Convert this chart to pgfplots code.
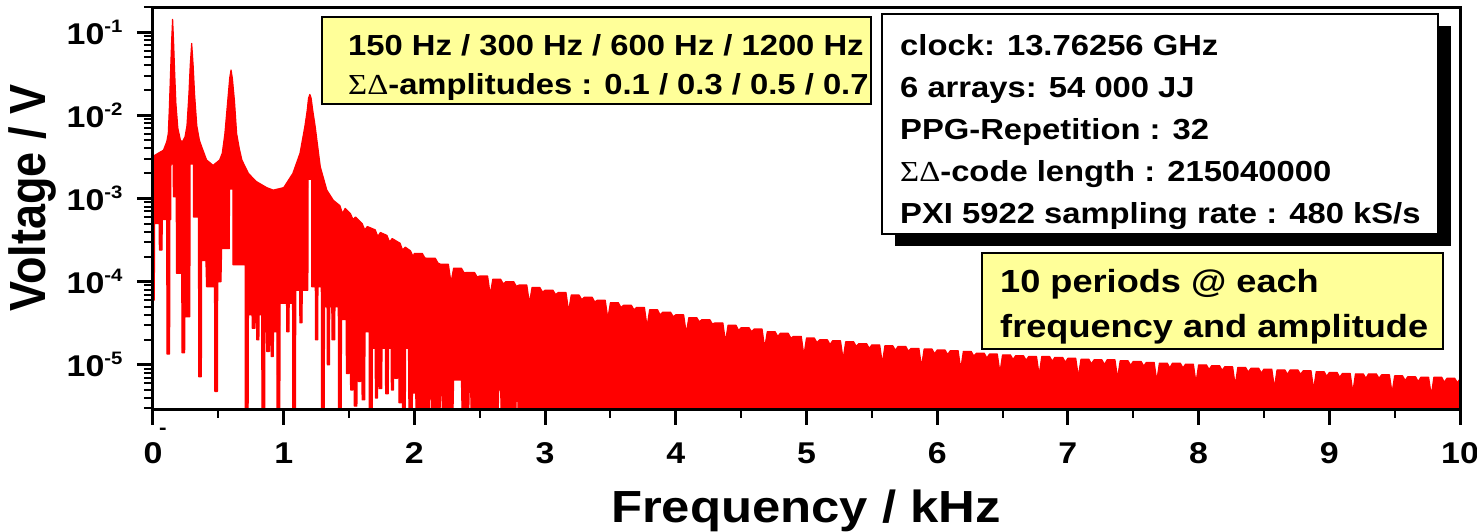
\documentclass[border=0pt]{standalone}
\usepackage{fontspec}
\setmainfont{Liberation Sans}[FakeStretch=1.13]
\newfontfamily\plainsans{Liberation Sans}
\newfontfamily\grk{Liberation Serif}[FakeStretch=1.13]
\usepackage{graphicx}
\usepackage{pgfplots}
\pgfplotsset{compat=1.18}
\definecolor{boxyellow}{RGB}{255,255,153}
\newcommand\tp[1]{10\raisebox{12pt}{\fontsize{18}{18}\selectfont -#1}}
\newcommand\SD{{\grk\mdseries ΣΔ}}
\begin{document}
\begin{tikzpicture}
\useasboundingbox (-153pt,-122pt) rectangle (1324pt,409pt);
\begin{axis}[
  at={(0pt,0pt)}, anchor=south west,
  scale only axis, width=1307pt, height=402pt,
  xmin=0, xmax=10, ymin=2.95e-6, ymax=0.2, ymode=log,
  axis on top,
  axis line style={line width=3pt},
  tick align=outside, tick pos=left,
  major tick length=16pt, minor tick length=9pt,
  major tick style={line width=3pt, black},
  minor tick style={line width=2pt, black},
  xtick={0,1,2,3,4,5,6,7,8,9,10},
  xticklabels={0,1,2,3,4,5,6,7,8,9,10},
  minor xtick={0.5,1.5,2.5,3.5,4.5,5.5,6.5,7.5,8.5,9.5},
  ytick={1e-5,1e-4,1e-3,1e-2,1e-1},
  yticklabels={\tp{5},\tp{4},\tp{3},\tp{2},\tp{1}},
  minor ytick={3e-6,4e-6,5e-6,6e-6,7e-6,8e-6,9e-6,
    2e-5,3e-5,4e-5,5e-5,6e-5,7e-5,8e-5,9e-5,
    2e-4,3e-4,4e-4,5e-4,6e-4,7e-4,8e-4,9e-4,
    2e-3,3e-3,4e-3,5e-3,6e-3,7e-3,8e-3,9e-3,
    2e-2,3e-2,4e-2,5e-2,6e-2,7e-2,8e-2,9e-2,2e-1},
  ticklabel style={font=\fontsize{30}{30}\selectfont\bfseries},
  xticklabel style={anchor=north, yshift=-14pt},
  yticklabel style={anchor=east, xshift=-11pt},
]
\addplot[draw=red, fill=red, line width=1.2pt, line join=round] coordinates {
(0,6e-5)
(0.000,3.2e-3) (0.04,3.5e-3) (0.08,3.8e-3) (0.105,4.8e-3) (0.117,6e-3)
(0.125,1.2e-2) (0.135,3.5e-2) (0.143,8e-2) (0.150,0.142) (0.157,8e-2)
(0.165,3.5e-2) (0.175,1.4e-2) (0.19,7e-3) (0.21,5e-3) (0.225,4.8e-3)
(0.245,5.5e-3) (0.26,7.5e-3) (0.275,1.8e-2) (0.285,4e-2) (0.296,0.073)
(0.307,4e-2) (0.318,1.8e-2) (0.335,7.5e-3) (0.355,5e-3) (0.372,4.2e-3)
(0.41,2.9e-3) (0.46,2.5e-3) (0.51,2.9e-3) (0.53,3.5e-3) (0.55,6e-3)
(0.572,1.5e-2) (0.587,2.8e-2) (0.597,0.035) (0.607,2.8e-2) (0.623,1.5e-2)
(0.64,6e-3) (0.66,4e-3) (0.68,2.9e-3) (0.73,2.0e-3) (0.79,1.6e-3)
(0.87,1.35e-3) (0.92,1.26e-3) (1.00,1.35e-3) (1.07,2.0e-3) (1.125,3.5e-3)
(1.163,7.5e-3) (1.18,1.15e-2) (1.19,1.6e-2) (1.20,0.0178) (1.21,1.6e-2)
(1.222,1.15e-2) (1.24,7.5e-3) (1.28,2.4e-3) (1.33,1.26e-3) (1.38,9.5e-4)
(1.43,8.2e-4) (1.45,6.6e-4) (1.47,7.6e-4) (1.51,6.6e-4) (1.53,5.6e-4)
(1.55,6.0e-4) (1.60,5.0e-4) (1.62,4.2e-4) (1.64,4.6e-4) (1.70,4.2e-4)
(1.72,3.5e-4) (1.74,3.9e-4) (1.79,3.6e-4) (1.81,3.0e-4) (1.83,3.3e-4)
(1.89,2.9e-4) (1.91,2.4e-4) (1.93,2.6e-4) (1.97,2.35e-4) (1.99,2.0e-4)
(2.00,2.19e-4) (2.06,2.19e-4) (2.08,1.93e-4)
(2.10,1.91e-4) (2.16,1.91e-4) (2.18,1.68e-4)
(2.20,1.62e-4) (2.26,1.62e-4) (2.28,9.7e-5)
(2.30,1.45e-4) (2.36,1.45e-4) (2.38,1.28e-4)
(2.40,1.29e-4) (2.46,1.29e-4) (2.48,1.14e-4)
(2.50,1.17e-4) (2.56,1.17e-4) (2.58,7.0e-5)
(2.60,1.07e-4) (2.66,1.07e-4) (2.68,9.4e-5)
(2.70,1.00e-4) (2.76,1.00e-4) (2.78,8.8e-5)
(2.80,9.1e-5) (2.86,9.1e-5) (2.88,5.5e-5)
(2.90,8.5e-5) (2.96,8.5e-5) (2.98,7.5e-5)
(3.00,7.9e-5) (3.06,7.9e-5) (3.08,7.0e-5)
(3.10,7.4e-5) (3.16,7.4e-5) (3.18,4.4e-5)
(3.20,6.9e-5) (3.26,6.9e-5) (3.28,6.1e-5)
(3.30,6.5e-5) (3.36,6.5e-5) (3.38,5.7e-5)
(3.40,6.0e-5) (3.46,6.0e-5) (3.48,3.6e-5)
(3.50,5.6e-5) (3.56,5.6e-5) (3.58,4.9e-5)
(3.60,5.2e-5) (3.66,5.2e-5) (3.68,4.6e-5)
(3.70,4.9e-5) (3.76,4.9e-5) (3.78,2.9e-5)
(3.80,4.6e-5) (3.86,4.6e-5) (3.88,4.0e-5)
(3.90,4.3e-5) (3.96,4.3e-5) (3.98,3.8e-5)
(4.00,4.0e-5) (4.06,4.0e-5) (4.08,2.4e-5)
(4.10,3.7e-5) (4.16,3.7e-5) (4.18,3.3e-5)
(4.20,3.5e-5) (4.26,3.5e-5) (4.28,3.1e-5)
(4.30,3.2e-5) (4.36,3.2e-5) (4.38,1.9e-5)
(4.40,3.0e-5) (4.46,3.0e-5) (4.48,2.6e-5)
(4.50,2.8e-5) (4.56,2.8e-5) (4.58,2.5e-5)
(4.60,2.7e-5) (4.66,2.7e-5) (4.68,1.6e-5)
(4.70,2.5e-5) (4.76,2.5e-5) (4.78,2.2e-5)
(4.80,2.4e-5) (4.86,2.4e-5) (4.88,2.1e-5)
(4.90,2.2e-5) (4.96,2.2e-5) (4.98,1.3e-5)
(5.00,2.1e-5) (5.06,2.1e-5) (5.08,1.85e-5)
(5.10,2.0e-5) (5.16,2.0e-5) (5.18,1.76e-5)
(5.20,1.95e-5) (5.26,1.95e-5) (5.28,1.17e-5)
(5.30,1.9e-5) (5.36,1.9e-5) (5.38,1.67e-5)
(5.40,1.8e-5) (5.46,1.8e-5) (5.48,1.58e-5)
(5.50,1.74e-5) (5.56,1.74e-5) (5.58,1.04e-5)
(5.60,1.70e-5) (5.66,1.70e-5) (5.68,1.5e-5)
(5.70,1.66e-5) (5.76,1.66e-5) (5.78,1.46e-5)
(5.80,1.58e-5) (5.86,1.58e-5) (5.88,9.5e-6)
(5.90,1.55e-5) (5.96,1.55e-5) (5.98,1.36e-5)
(6.00,1.51e-5) (6.06,1.51e-5) (6.08,1.33e-5)
(6.10,1.48e-5) (6.16,1.48e-5) (6.18,8.9e-6)
(6.20,1.45e-5) (6.26,1.45e-5) (6.28,1.28e-5)
(6.30,1.38e-5) (6.36,1.38e-5) (6.38,1.21e-5)
(6.40,1.35e-5) (6.46,1.35e-5) (6.48,8.1e-6)
(6.50,1.32e-5) (6.56,1.32e-5) (6.58,1.16e-5)
(6.60,1.29e-5) (6.66,1.29e-5) (6.68,1.14e-5)
(6.70,1.26e-5) (6.76,1.26e-5) (6.78,7.6e-6)
(6.80,1.26e-5) (6.86,1.26e-5) (6.88,1.11e-5)
(6.90,1.23e-5) (6.96,1.23e-5) (6.98,1.08e-5)
(7.00,1.20e-5) (7.06,1.20e-5) (7.08,7.2e-6)
(7.10,1.17e-5) (7.16,1.17e-5) (7.18,1.03e-5)
(7.20,1.15e-5) (7.26,1.15e-5) (7.28,1.01e-5)
(7.30,1.15e-5) (7.36,1.15e-5) (7.38,6.9e-6)
(7.40,1.12e-5) (7.46,1.12e-5) (7.48,9.9e-6)
(7.50,1.10e-5) (7.56,1.10e-5) (7.58,9.7e-6)
(7.60,1.07e-5) (7.66,1.07e-5) (7.68,6.4e-6)
(7.70,1.05e-5) (7.76,1.05e-5) (7.78,9.2e-6)
(7.80,1.05e-5) (7.86,1.05e-5) (7.88,9.2e-6)
(7.90,1.02e-5) (7.96,1.02e-5) (7.98,6.1e-6)
(8.00,1.00e-5) (8.06,1.00e-5) (8.08,8.8e-6)
(8.10,9.8e-6) (8.16,9.8e-6) (8.18,8.6e-6)
(8.20,9.5e-6) (8.26,9.5e-6) (8.28,5.7e-6)
(8.30,9.3e-6) (8.36,9.3e-6) (8.38,8.2e-6)
(8.40,9.1e-6) (8.46,9.1e-6) (8.48,8.0e-6)
(8.50,8.9e-6) (8.56,8.9e-6) (8.58,5.3e-6)
(8.60,8.7e-6) (8.66,8.7e-6) (8.68,7.7e-6)
(8.70,8.7e-6) (8.76,8.7e-6) (8.78,7.7e-6)
(8.80,8.5e-6) (8.86,8.5e-6) (8.88,5.1e-6)
(8.90,8.3e-6) (8.96,8.3e-6) (8.98,7.3e-6)
(9.00,8.1e-6) (9.06,8.1e-6) (9.08,7.1e-6)
(9.10,7.9e-6) (9.16,7.9e-6) (9.18,4.7e-6)
(9.20,7.8e-6) (9.26,7.8e-6) (9.28,6.9e-6)
(9.30,7.8e-6) (9.36,7.8e-6) (9.38,6.9e-6)
(9.40,7.6e-6) (9.46,7.6e-6) (9.48,4.6e-6)
(9.50,7.4e-6) (9.56,7.4e-6) (9.58,6.5e-6)
(9.60,7.2e-6) (9.66,7.2e-6) (9.68,6.3e-6)
(9.70,7.1e-6) (9.76,7.1e-6) (9.78,4.3e-6)
(9.80,7.1e-6) (9.86,7.1e-6) (9.88,6.2e-6)
(9.90,6.9e-6) (9.96,6.9e-6) (9.98,6.1e-6)
(10.00,6.8e-6)
(10.00,1e-6)
(2.80,1e-6) (2.79,4.5e-6) (2.78,4.5e-6) (2.77,1e-6)
(2.67,1e-6) (2.66,5e-6) (2.645,5e-6) (2.635,1e-6)
(2.44,1e-6) (2.43,5.6e-6) (2.42,5.6e-6) (2.41,1e-6)
(2.37,1e-6) (2.36,6.6e-6) (2.30,6.6e-6) (2.29,1e-6)
(2.22,1e-6) (2.21,5e-6) (2.20,5e-6) (2.19,1e-6)
(2.14,1e-6) (2.13,4.8e-6) (2.12,4.8e-6) (2.11,1e-6)
(2.02,1e-6) (2.01,4.6e-6) (1.985,4.6e-6) (1.98,1e-6)
(1.96,1e-6) (1.955,1.58e-5)
(1.932,1.58e-5) (1.93,1e-6) (1.91,1e-6) (1.908,1.58e-5)
(1.90,1.58e-5) (1.898,3.5e-6) (1.882,3.5e-6) (1.88,1.58e-5)
(1.872,1.58e-5) (1.87,6.9e-6) (1.85,6.9e-6) (1.848,1.58e-5)
(1.842,1.58e-5) (1.84,5e-6) (1.824,5e-6) (1.822,1.58e-5)
(1.802,1.58e-5) (1.80,4.5e-6) (1.78,4.5e-6) (1.778,1.58e-5)
(1.752,1.58e-5) (1.75,5.2e-6) (1.73,5.2e-6) (1.728,1.58e-5)
(1.72,1.58e-5) (1.718,4e-6) (1.702,4e-6) (1.70,1.58e-5)
(1.678,1.58e-5) (1.676,1e-6) (1.656,1e-6) (1.654,2.5e-5)
(1.622,2.5e-5) (1.62,3.8e-6) (1.60,3.8e-6) (1.598,2.5e-5)
(1.59,2.5e-5) (1.588,6.3e-6) (1.572,6.3e-6) (1.57,2.5e-5)
(1.562,2.5e-5) (1.56,3.2e-6) (1.54,3.2e-6) (1.538,3.5e-5)
(1.53,3.5e-5) (1.528,5e-6) (1.512,5e-6) (1.51,3.5e-5)
(1.502,3.5e-5) (1.50,7.9e-6) (1.48,7.9e-6) (1.478,3.5e-5)
(1.442,3.5e-5) (1.44,1e-6) (1.42,1e-6) (1.418,5e-5)
(1.392,5e-5) (1.39,2e-5) (1.37,2e-5) (1.368,5e-5)
(1.352,5e-5) (1.35,1e-5) (1.334,1e-5) (1.332,5e-5)
(1.312,5e-5) (1.31,1e-6) (1.29,1e-6) (1.288,8.7e-5)
(1.262,8.7e-5) (1.26,2e-5) (1.244,2e-5) (1.242,8.7e-5)
(1.215,8.7e-5) (1.214,1.7e-3) (1.186,1.7e-3) (1.185,7.9e-5)
(1.142,7.9e-5) (1.14,3.2e-5) (1.124,3.2e-5) (1.122,7.9e-5)
(1.092,7.9e-5) (1.09,1e-6) (1.07,1e-6) (1.068,5.5e-5)
(1.042,5.5e-5) (1.04,2.5e-5) (1.024,2.5e-5) (1.022,5.5e-5)
(0.972,5.5e-5) (0.97,1e-6) (0.95,1e-6) (0.948,2.5e-5)
(0.922,2.5e-5) (0.92,1.26e-5) (0.904,1.26e-5) (0.902,2.5e-5)
(0.892,2.5e-5) (0.89,1.45e-5) (0.87,1.45e-5) (0.868,2.5e-5)
(0.856,2.5e-5) (0.854,1e-6) (0.834,1e-6) (0.832,4e-5)
(0.812,4e-5) (0.81,2e-5) (0.794,2e-5) (0.792,4e-5)
(0.782,4e-5) (0.78,2.75e-5) (0.76,2.75e-5) (0.758,4e-5)
(0.73,4e-5) (0.727,1e-6) (0.707,1e-6) (0.705,1.6e-4)
(0.612,1.6e-4) (0.611,1.3e-3) (0.585,1.3e-3) (0.584,2.5e-4)
(0.525,2.5e-4) (0.52,1e-4)
(0.495,1e-4) (0.493,4.8e-6) (0.473,4.8e-6) (0.471,8.7e-5)
(0.41,8.7e-5) (0.405,1.8e-4)
(0.372,1.8e-4) (0.37,7.2e-6) (0.35,7.2e-6) (0.348,6e-4)
(0.31,6e-4) (0.309,2.6e-3) (0.283,2.6e-3) (0.282,3.8e-5)
(0.244,3.8e-5) (0.242,1.4e-5) (0.222,1.4e-5) (0.22,1.26e-4)
(0.18,1.26e-4) (0.178,1.05e-3)
(0.156,1.05e-3) (0.155,2.6e-3) (0.137,2.6e-3) (0.136,5.6e-4)
(0.129,5.6e-4) (0.127,1.35e-5) (0.107,1.35e-5) (0.105,5.6e-4)
(0.071,5.6e-4) (0.069,2.4e-4) (0.049,2.4e-4) (0.047,5e-4)
(0.012,5e-4) (0.01,6e-5) (0,6e-5)
};
\end{axis}
% axis labels
\node[font=\fontsize{45}{45}\selectfont\bfseries, anchor=base] at (653pt,-113pt) {Frequency / kHz};
\node[rotate=90, font=\plainsans\bfseries\fontsize{45}{45}\selectfont] at (-121pt,211pt) {\scalebox{1}[1.13]{Voltage / V}};
\node[font=\fontsize{20}{20}\selectfont\bfseries] at (10pt,-22pt) {-};
% box 1
\draw[fill=boxyellow, line width=1.2pt] (169pt,305pt) rectangle (718pt,392pt);
\node[anchor=base west, font=\fontsize{29}{29}\selectfont\bfseries, inner sep=0pt] at (195pt,353pt) {150 Hz / 300 Hz / 600 Hz / 1200 Hz};
\node[anchor=base west, font=\fontsize{29}{29}\selectfont\bfseries, inner sep=0pt] at (195pt,315pt) {\SD-amplitudes : 0.1 / 0.3 / 0.5 / 0.7};
% info box with shadow
\fill[black] (742pt,163pt) rectangle (1298pt,383pt);
\draw[fill=white, line width=1.2pt] (729pt,175pt) rectangle (1285pt,395pt);
\begin{scope}[every node/.style={anchor=base west, font=\fontsize{29}{29}\selectfont\bfseries, inner sep=0pt}]
\node at (747pt,353pt) {clock: 13.76256 GHz};
\node at (747pt,312pt) {6 arrays: 54 000 JJ};
\node at (747pt,270pt) {PPG-Repetition : 32};
\node at (747pt,228pt) {\SD-code length : 215040000};
\node at (747pt,186pt) {PXI 5922 sampling rate : 480 kS/s};
\end{scope}
% box 2
\draw[fill=boxyellow, line width=1.2pt] (829pt,60pt) rectangle (1290pt,156pt);
\node[anchor=base west, font=\fontsize{32}{32}\selectfont\bfseries, inner sep=0pt] at (847pt,117pt) {10 periods @ each};
\node[anchor=base west, font=\fontsize{32}{32}\selectfont\bfseries, inner sep=0pt] at (847pt,71.5pt) {frequency and amplitude};
\end{tikzpicture}
\end{document}
